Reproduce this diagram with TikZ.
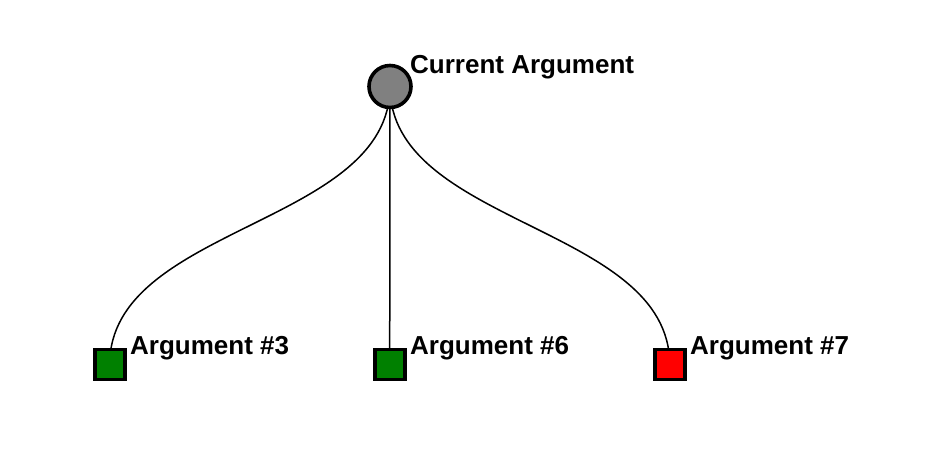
\documentclass[tikz,border=0pt]{standalone}
\usepackage{fontspec}
\setmainfont{Liberation Sans}
\usetikzlibrary{backgrounds}
\definecolor{nodegray}{HTML}{808080}
\definecolor{nodegreen}{HTML}{008000}
\definecolor{nodered}{HTML}{FF0000}
\tikzset{
  root/.style={circle, draw=black, line width=3.6pt, fill=nodegray, minimum size=42pt, inner sep=0pt},
  leaf/.style={rectangle, draw=black, line width=3.6pt, minimum size=30pt, inner sep=0pt},
  lbl/.style={anchor=base west, inner sep=0pt, font=\fontsize{26}{30}\selectfont\bfseries},
  link/.style={draw=black, line width=1.5pt}
}
\begin{document}
\begin{tikzpicture}[x=1pt,y=-1pt]
\useasboundingbox (0,0) rectangle (938,460);
\node[root] (cur) at (390,86.5) {};
\node[leaf, fill=nodegreen] (a3) at (109.7,364.5) {};
\node[leaf, fill=nodegreen] (a6) at (389.7,364.5) {};
\node[leaf, fill=nodered] (a7) at (669.7,364.5) {};
\node[lbl] (lcur) at (410,73.5) {Current Argument};
\node[lbl] (la3) at (130,354) {Argument \#3};
\node[lbl] (la6) at (410,354) {Argument \#6};
\node[lbl] (la7) at (690,354) {Argument \#7};
\begin{pgfonlayer}{background}
\draw[link] (cur.center) .. controls (390,225.5) and (109.7,225.5) .. (a3.center);
\draw[link] (cur.center) -- (a6.center);
\draw[link] (cur.center) .. controls (390,225.5) and (669.7,225.5) .. (a7.center);
\end{pgfonlayer}
\end{tikzpicture}
\end{document}
